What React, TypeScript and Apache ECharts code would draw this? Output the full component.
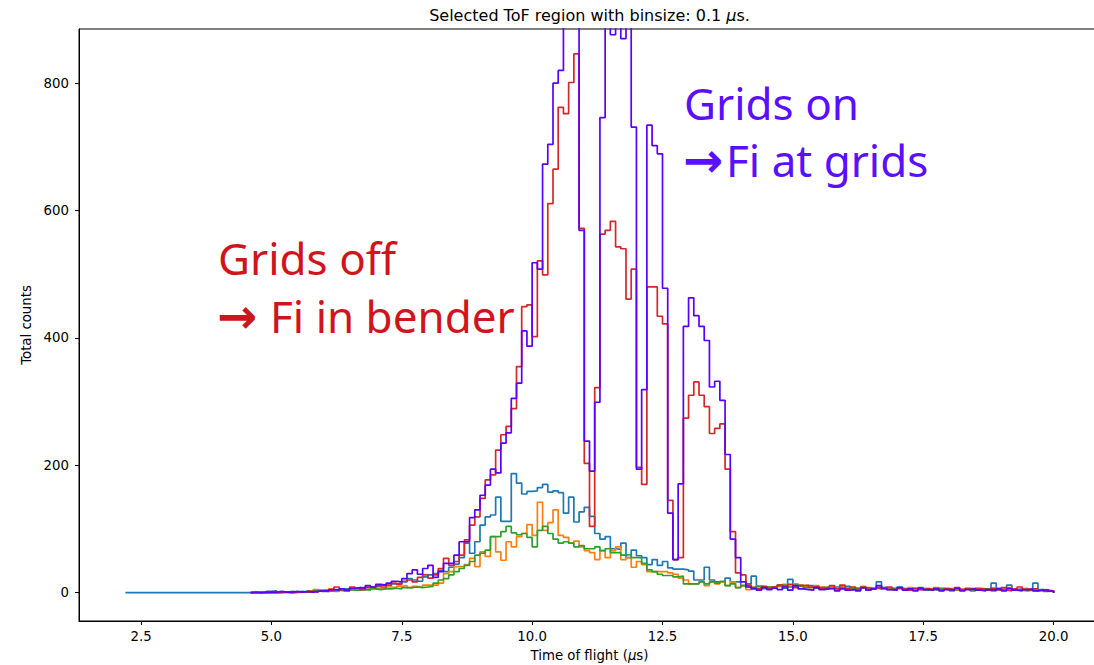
import React, { useEffect, useRef } from "react";
import * as echarts from "echarts";

// ---------- data ----------
const BIN_WIDTH = 0.1;
const BLUE_START = 2.2;
const OTHER_START = 4.6;
const X_TICKS = [2.5, 5, 7.5, 10, 12.5, 15, 17.5, 20];
const Y_TICKS = [0, 200, 400, 600, 800];

// bins 2.2 .. 19.9 (blue)
const blueCounts = [
  0, 0, 0, 0, 0, 0, 0, 0, 0, 0, 0, 0, 0, 0, 0, 0, 0, 0, 0, 0, 0, 0, 0, 0,
  0, 1, 0, 2, 3, 1, 1, 0, 1, 2,
  1, 2, 3, 2, 4, 3, 5, 4, 6, 5,
  6, 8, 7, 9, 10, 12, 11, 14, 15, 17,
  22, 20, 18, 25, 28, 30, 35, 33, 40, 45,
  55, 78, 62, 80, 106, 119, 122, 150, 112, 112,
  187, 172, 155, 159, 160, 165, 170, 158, 160, 157,
  125, 150, 111, 127, 134, 120, 93, 84, 88, 69,
  68, 78, 55, 67, 58, 55, 44, 52, 43, 49,
  39, 37, 37, 36, 34, 20, 20, 40, 20, 17,
  17, 23, 17, 17, 11, 14, 26, 10, 9, 8,
  8, 10, 7, 21, 10, 12, 9, 11, 8, 9,
  7, 6, 9, 8, 10, 7, 6, 8, 6, 7,
  17, 8, 7, 6, 9, 5, 7, 6, 8, 5,
  6, 5, 7, 6, 4, 6, 5, 7, 5, 6,
  5, 6, 15, 7, 6, 12, 5, 6, 7, 5,
  15, 5, 4, 3,
];

// bins 4.6 .. 19.9
const orangeCounts = [
  0, 0, 0, 0, 0, 0, 1, 0, 0, 1,
  1, 3, 5, 4, 3, 6, 2, 4, 3, 5,
  4, 6, 5, 8, 6, 7, 9, 8, 10, 11,
  8, 10, 9, 12, 12, 12, 15, 30, 33, 41,
  41, 44, 54, 41, 64, 57, 88, 64, 51, 80,
  72, 88, 93, 107, 90, 142, 98, 110, 130, 90,
  87, 78, 81, 72, 66, 63, 52, 66, 55, 66,
  72, 52, 55, 40, 49, 44, 33, 33, 33, 33,
  31, 29, 23, 20, 14, 14, 17, 11, 17, 14,
  17, 11, 17, 8, 11, 5, 8, 10, 6, 9,
  9, 11, 13, 10, 14, 12, 10, 8, 11, 9,
  8, 10, 7, 9, 6, 8, 7, 10, 8, 6,
  9, 7, 8, 6, 7, 5, 8, 6, 5, 7,
  6, 8, 5, 7, 6, 4, 6, 5, 7, 4,
  6, 5, 7, 4, 6, 8, 5, 4, 6, 5,
  4, 5, 3, 3,
];

const greenCounts = [
  0, 0, 0, 0, 0, 1, 1, 2, 1, 1,
  2, 1, 3, 2, 2, 3, 4, 3, 5, 4,
  4, 5, 4, 6, 5, 6, 6, 7, 6, 8,
  8, 9, 8, 9, 10, 15, 20, 22, 28, 33,
  38, 43, 49, 59, 62, 67, 88, 88, 96, 104,
  94, 91, 93, 87, 72, 98, 104, 93, 84, 78,
  80, 78, 72, 74, 69, 69, 72, 66, 69, 63,
  63, 59, 60, 55, 55, 46, 36, 33, 29, 27,
  27, 25, 26, 14, 14, 14, 17, 14, 17, 15,
  18, 11, 14, 8, 11, 9, 8, 10, 7, 9,
  10, 12, 11, 9, 12, 10, 8, 9, 7, 8,
  9, 7, 6, 8, 5, 7, 6, 8, 5, 7,
  6, 8, 5, 7, 6, 5, 4, 6, 5, 4,
  5, 4, 6, 5, 3, 5, 4, 6, 3, 5,
  4, 6, 3, 5, 4, 3, 5, 4, 3, 4,
  3, 4, 2, 3,
];

const redCounts = [
  0, 0, 0, 0, 0, 0, 1, 0, 1, 1,
  1, 2, 1, 3, 2, 4, 9, 5, 3, 9,
  7, 5, 9, 8, 11, 9, 12, 15, 13, 18,
  20, 17, 24, 28, 23, 28, 38, 54, 43, 49,
  59, 83, 106, 119, 148, 177, 185, 224, 248, 261,
  289, 355, 449, 452, 402, 521, 499, 611, 665, 762,
  752, 801, 846, 572, 203, 104, 322, 563, 569, 583,
  543, 540, 461, 508, 197, 170, 480, 480, 434, 422,
  145, 52, 55, 274, 310, 331, 310, 292, 250, 258,
  265, 194, 96, 31, 28, 12, 8, 6, 10, 7,
  9, 12, 10, 13, 8, 11, 12, 9, 10, 7,
  8, 11, 6, 12, 7, 9, 5, 8, 7, 6,
  8, 6, 9, 5, 7, 6, 4, 7, 5, 6,
  5, 7, 4, 6, 5, 8, 4, 6, 5, 7,
  6, 4, 7, 5, 8, 4, 6, 9, 5, 4,
  6, 4, 5, 3,
];

const purpleCounts = [
  1, 0, 1, 1, 1, 2, 1, 1, 2, 1,
  2, 1, 2, 3, 3, 5, 4, 6, 4, 7,
  8, 7, 11, 9, 13, 12, 15, 18, 17, 22,
  30, 36, 29, 38, 43, 24, 33, 46, 46, 59,
  80, 80, 118, 130, 153, 169, 194, 188, 235, 251,
  305, 329, 411, 387, 518, 508, 673, 704, 800, 820,
  930, 1010, 960, 569, 238, 191, 299, 746, 905, 876,
  900, 870, 895, 731, 194, 319, 734, 702, 689, 478,
  125, 52, 171, 418, 463, 435, 418, 396, 323, 332,
  302, 217, 84, 55, 17, 9, 6, 4, 8, 5,
  7, 5, 9, 4, 11, 6, 5, 4, 8, 5,
  6, 7, 3, 6, 4, 5, 3, 8, 4, 6,
  11, 7, 5, 4, 8, 4, 6, 3, 7, 5,
  4, 6, 3, 5, 4, 7, 3, 5, 6, 4,
  3, 5, 4, 6, 3, 7, 4, 3, 5, 6,
  3, 4, 3, 2,
];

const SERIES = [
  { name: "blue", start: BLUE_START, counts: blueCounts, color: "#1f77b4" },
  { name: "orange", start: OTHER_START, counts: orangeCounts, color: "#ff7f0e" },
  { name: "green", start: OTHER_START, counts: greenCounts, color: "#2ca02c" },
  { name: "red", start: OTHER_START, counts: redCounts, color: "#d62728" },
  { name: "purple", start: OTHER_START, counts: purpleCounts, color: "#5a00ff" },
];

function stairs(start: number, counts: number[]) {
  const pts: [number, number][] = [[start, 0]];
  counts.forEach((c, i) => pts.push([+(start + i * BIN_WIDTH).toFixed(2), c]));
  const end = +(start + counts.length * BIN_WIDTH).toFixed(2);
  pts.push([end, counts[counts.length - 1]]);
  pts.push([end, 0]);
  return pts;
}

const FONT = "'DejaVu Sans', sans-serif";
const ANNOT_FONT = "'Noto Sans', sans-serif";
const VIOLET = "#5a10ff";
const RED_TEXT = "#d0141c";

export default function App() {
  const ref = useRef<HTMLDivElement>(null);

  useEffect(() => {
    if (!ref.current) return;
    const chart = echarts.init(ref.current, null, { renderer: "svg" });
    const labelStyle = { color: "#000", fontFamily: FONT, fontSize: 13.3 };
    chart.setOption({
      animation: false,
      backgroundColor: "#ffffff",
      grid: {
        left: 79,
        right: 4,
        top: 29,
        bottom: 44,
        show: true,
        borderColor: "#000",
        borderWidth: 1,
        backgroundColor: "transparent",
        outerBoundsMode: "none",
      },
      xAxis: {
        type: "value",
        min: 1.31,
        max: 20.89,
        axisLine: { show: true, onZero: false, lineStyle: { color: "#000", width: 1 } },
        axisTick: { show: true, length: 4, customValues: X_TICKS, lineStyle: { color: "#000" } },
        axisLabel: {
          ...labelStyle,
          margin: 9,
          customValues: X_TICKS,
          formatter: (v: number) => v.toFixed(1),
        },
        splitLine: { show: false },
        name: "Time of flight ({i|μ}s)",
        nameLocation: "middle",
        nameGap: 28,
        nameTextStyle: {
          ...labelStyle,
          rich: { i: { ...labelStyle, fontStyle: "italic" } },
        },
      },
      yAxis: {
        type: "value",
        min: -44.4,
        max: 885,
        axisLine: { show: true, onZero: false, lineStyle: { color: "#000", width: 1 } },
        axisTick: { show: true, length: 4, customValues: Y_TICKS, lineStyle: { color: "#000" } },
        axisLabel: { ...labelStyle, margin: 10, customValues: Y_TICKS },
        splitLine: { show: false },
        name: "Total counts",
        nameLocation: "middle",
        nameGap: 40,
        nameTextStyle: labelStyle,
      },
      series: SERIES.map((s) => ({
        name: s.name,
        type: "line",
        step: "end",
        data: stairs(s.start, s.counts),
        symbol: "none",
        silent: true,
        clip: true,
        lineStyle: { color: s.color, width: 1.7 },
        itemStyle: { color: s.color },
        emphasis: { disabled: true },
      })),
      graphic: [
        {
          type: "text",
          x: 589.5,
          y: 15,
          style: {
            text: "Selected ToF region with binsize: 0.1 {i|μ}s.",
            fill: "#000",
            font: `16px ${FONT}`,
            align: "center",
            verticalAlign: "middle",
            rich: { i: { fontStyle: "italic", fontSize: 16, fontFamily: FONT, fill: "#000" } },
          },
        },
        {
          type: "text",
          x: 684,
          y: 103,
          style: { text: "Grids on", fill: VIOLET, font: `44px ${ANNOT_FONT}`, align: "left", verticalAlign: "middle" },
        },
        {
          type: "text",
          x: 683,
          y: 160,
          style: { text: "→", fill: VIOLET, font: `bold 48px 'DejaVu Sans'`, align: "left", verticalAlign: "middle" },
        },
        {
          type: "text",
          x: 726,
          y: 160,
          style: { text: "Fi at grids", fill: VIOLET, font: `44px ${ANNOT_FONT}`, align: "left", verticalAlign: "middle" },
        },
        {
          type: "text",
          x: 218,
          y: 258,
          style: { text: "Grids off", fill: RED_TEXT, font: `44px ${ANNOT_FONT}`, align: "left", verticalAlign: "middle" },
        },
        {
          type: "text",
          x: 217,
          y: 316,
          style: { text: "→", fill: RED_TEXT, font: `bold 48px 'DejaVu Sans'`, align: "left", verticalAlign: "middle" },
        },
        {
          type: "text",
          x: 270,
          y: 316,
          style: { text: "Fi in bender", fill: RED_TEXT, font: `44px ${ANNOT_FONT}`, align: "left", verticalAlign: "middle" },
        },
      ],
    });
    return () => chart.dispose();
  }, []);

  return (
    <div
      style={{
        position: "fixed",
        left: 0,
        top: 0,
        width: 1094,
        height: 665,
        overflow: "hidden",
        background: "#fff",
      }}
    >
      <div ref={ref} style={{ width: 1104, height: 665 }} />
    </div>
  );
}
